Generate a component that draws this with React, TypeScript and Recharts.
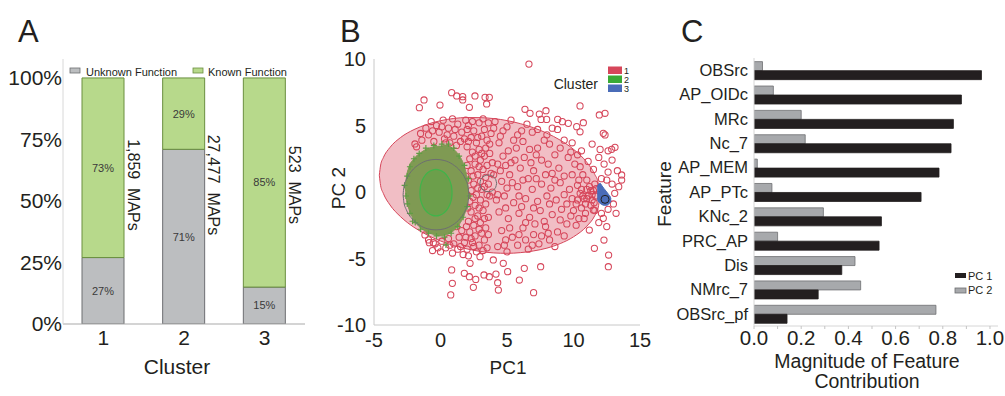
import React from "react";
import { BarChart, Bar, XAxis, YAxis, LabelList, ComposedChart, Area, Scatter } from "recharts";

const FONT = "'Liberation Sans', Arial, Helvetica, sans-serif";
const INK = "#231f20";
const RED = "#d6465a";

// A: share of MAPs with known / unknown function per cluster
const clusters = ["1", "2", "3"];
const unknownPct = [27, 71, 15];
const knownPct = [73, 29, 85];
const mapCounts = ["1,859", "27,477", "523"];
const pctTicks = [0, 25, 50, 75, 100];

// B: PCA scatter
const pcTicksX = [-5, 0, 5, 10, 15];
const pcTicksY = [-10, -5, 0, 5, 10];

const cluster1Pts: [number, number][] = [
  // outliers
  [6.65, 9.62], [0.84, 7.47], [1.22, 7.22], [1.67, 7.17], [1.67, 6.92], [2.59, 7.22], [3.35, 7.12], [3.67, 7.12],
  [-1.59, 6.34], [-1.24, 6.92], [-0.04, 6.54], [2.17, 6.37], [3.47, 6.62], [6.35, 6.22], [6.73, 5.92], [7.43, 5.86],
  [7.93, 6.11], [7.98, 5.46], [7.56, 5.46], [8.81, 5.46], [9.16, 5.29], [9.61, 5.16], [10.24, 4.91], [10.49, 4.53],
  [10.74, 5.21], [10.49, 6.47], [11.94, 5.79], [12.37, 5.92], [12.24, 4.41], [12.37, 4.29], [13.12, 3.36], [12.87, 3.21],
  [13.62, 1.28], [13.62, 0.9], [11.49, -1.35], [12.24, -1.98], [11.19, -2.86], [11.57, -4.23], [12.29, -3.61], [12.64, -4.74],
  [12.62, -5.62], [0.77, -7.74], [0.89, -6.87], [1.79, -6.11], [2.17, -6.37], [2.47, -7.17], [2.65, -6.57], [3.27, -6.24],
  [3.67, -6.37], [4.3, -6.82], [4.17, -6.17], [4.35, -7.37], [5.05, -5.99], [5.93, -6.62], [6.3, -5.74], [7.0, -7.57],
  [7.53, -5.62], [0.84, -5.86], [2.22, -5.36], [2.97, -4.86], [3.97, -5.11], [4.72, -5.36], [-1.92, 3.61], [-0.84, -3.81],
  [-0.54, -3.81], [-1.17, -3.23],
  // above cluster 2
  [-1.4, 3.9], [-0.9, 4.3], [-0.5, 3.8], [-0.1, 4.5], [0.3, 4.0], [0.6, 4.8], [1.0, 4.2], [1.3, 5.1], [1.6, 4.5], [1.9, 5.4],
  [-1.1, 4.8], [-0.3, 5.0], [0.2, 5.4], [0.9, 5.5], [1.5, 3.8], [0.7, 3.7], [-1.8, 3.4], [-0.7, 5.3], [1.2, 3.5], [1.8, 4.0],
  [-0.6, 4.6], [0.1, 4.9], [0.5, 4.3], [1.1, 4.7], [-1.5, 4.4], [0.4, 3.7],
  // dense band right of cluster 2
  [2.1, 5.0], [2.5, 4.6], [2.9, 5.2], [3.3, 4.7], [2.3, 4.1], [2.7, 3.7], [3.1, 4.2], [3.5, 3.9], [2.0, 3.4], [2.4, 3.0],
  [2.9, 3.2], [3.3, 2.7], [2.2, 2.5], [2.6, 2.1], [3.0, 2.4], [3.5, 2.0], [2.3, 1.6], [2.8, 1.3], [3.2, 1.7], [2.1, 0.9],
  [2.5, 0.6], [3.0, 0.8], [3.4, 1.1], [2.3, 0.1], [2.7, -0.2], [3.1, 0.2], [2.2, -0.7], [2.6, -1.0], [3.0, -0.6], [3.4, -0.9],
  [2.3, -1.5], [2.8, -1.8], [3.2, -1.4], [2.1, -2.2], [2.5, -2.5], [3.0, -2.3], [3.4, -2.7], [2.2, -3.0], [2.6, -3.3], [3.1, -3.1],
  [2.4, -3.8], [2.9, -4.0], [3.3, -3.6], [2.0, -4.3], [2.7, -4.5], [3.5, -4.2], [3.6, -1.9], [3.7, 2.9], [3.8, 4.4], [3.6, 5.2],
  [2.0, 4.7], [2.4, 5.3], [2.8, 4.1], [3.2, 5.5], [3.4, 3.3], [2.1, 3.8], [2.6, 2.7], [3.1, 2.9], [2.0, 2.0], [2.45, 1.2],
  [2.9, 1.9], [3.3, 0.4], [2.0, -0.2], [2.45, -0.4], [2.9, -1.2], [3.3, -2.0], [2.05, -1.2], [2.6, -2.0], [2.9, -2.8], [2.3, -3.5],
  [3.2, -4.4], [2.1, -4.8], [2.5, -4.1], [3.6, -3.2], [3.7, -0.3], [3.8, 1.4], [3.9, 2.2], [3.7, 3.6], [4.0, 4.8], [1.9, 1.2],
  [1.95, -2.6], [1.9, -3.4], [2.8, 0.3], [3.5, -0.2], [3.6, 0.6],
  // below cluster 2
  [-0.9, -3.6], [-0.4, -3.9], [0.1, -3.7], [0.6, -3.5], [1.0, -3.9], [1.4, -3.4], [1.8, -3.8], [-0.6, -4.4], [0.0, -4.5],
  [0.4, -4.2], [0.9, -4.6], [1.3, -4.3], [1.7, -4.7], [1.6, -2.9], [1.2, -2.6], [-0.2, -4.2], [0.7, -4.0], [1.5, -4.1],
  // middle of the ellipse
  [4.1, 5.3], [4.7, 4.6], [5.3, 5.4], [5.8, 4.3], [4.4, 3.7], [5.1, 3.1], [6.2, 3.8], [6.9, 4.5], [7.3, 3.3], [5.6, 2.4],
  [4.3, 2.1], [6.0, 1.8], [7.6, 2.4], [8.2, 3.6], [8.6, 2.8], [9.3, 3.9], [9.6, 2.6], [8.9, 1.8], [7.9, 1.3], [6.6, 1.0],
  [5.2, 1.3], [4.6, 0.8], [5.8, 0.4], [6.9, 0.2], [7.6, 0.6], [8.3, 0.3], [9.0, 0.7], [9.7, 0.2], [10.3, 0.5], [4.8, -0.3],
  [5.5, -0.8], [6.4, -0.5], [7.3, -0.7], [8.0, -0.3], [8.7, -0.6], [9.3, -0.2], [9.9, -0.5], [4.4, -1.5], [5.1, -2.0], [5.9, -1.6],
  [6.7, -1.9], [7.5, -1.4], [8.4, -1.7], [9.1, -1.3], [9.8, -1.8], [10.6, -1.2], [4.6, -2.9], [5.4, -3.4], [6.2, -2.7], [7.0, -3.2],
  [7.9, -2.6], [8.8, -3.0], [9.5, -2.4], [4.3, -4.1], [5.0, -4.5], [5.8, -4.0], [6.6, -4.3], [7.4, -3.9], [8.2, -3.6], [10.2, -2.5],
  [10.7, 1.3], [10.1, 2.1], [6.5, 5.1], [7.3, 4.7], [8.0, 4.3], [8.8, 4.7], [9.9, 3.7], [10.6, 3.1], [4.0, 1.3], [4.9, 2.0],
  [5.7, 3.3], [6.3, 2.6], [7.0, 1.6], [8.1, 2.1], [9.3, 1.2], [4.2, -0.6], [5.0, 0.3], [6.1, -1.1], [7.8, -2.2], [9.0, -2.1],
  [6.4, -3.6], [4.9, -3.6], [8.6, -4.1], [3.9, 0.0],
  [4.5, 4.2], [5.0, 4.9], [5.5, 3.9], [6.1, 4.6], [6.7, 3.2], [7.8, 3.9], [8.4, 4.8], [9.0, 3.3], [9.8, 3.0], [10.3, 2.8],
  [4.7, 2.7], [5.3, 2.2], [6.8, 2.2], [7.2, 2.8], [8.4, 1.4], [9.9, 1.3], [10.5, 1.9], [4.5, 1.6], [5.4, 0.7], [6.2, 0.9],
  [7.2, 1.0], [8.6, 0.9], [9.5, -0.9], [10.2, -0.9], [4.3, -0.2], [5.9, -0.3], [7.0, -1.2], [8.2, -0.9], [4.9, -1.2], [6.4, -2.3],
  [7.1, -2.4], [8.1, -3.1], [9.3, -3.3], [5.2, -2.7], [5.9, -3.2], [4.8, -4.0], [6.9, -4.0], [7.6, -3.3], [10.0, -1.4], [10.9, -1.6],
  [10.4, -2.0],
  // streak towards cluster 3
  [10.8, -0.5], [11.1, -0.3], [11.4, -0.6], [11.65, -0.3], [10.5, -0.1], [11.0, 0.2], [11.5, 0.1], [11.3, -1.0], [11.6, -1.4],
  [12.1, -1.6], [12.6, -1.3], [13.0, -0.9], [13.1, -0.1], [12.9, 0.6], [12.5, 0.9], [12.1, 1.0], [11.6, 0.6], [11.0, 0.9],
  [11.5, 1.7], [11.9, 2.6], [12.3, 2.1], [12.6, 1.5], [12.9, 2.4], [13.3, 1.6], [12.0, 3.2], [11.4, 3.6], [12.6, 3.1],
  [11.1, 2.3], [13.4, 0.4], [13.2, -1.6], [11.9, -2.3], [12.5, -2.6], [10.8, -2.0],
  [10.3, -0.6], [10.6, 0.2], [10.9, -0.9], [11.2, 0.4], [11.4, -0.2], [11.55, -0.8], [10.7, -0.3], [11.0, -0.5], [11.3, 0.1],
  [11.7, 0.25], [10.4, 0.9],
];

const cluster2Pts: [number, number][] = [
  [-2.7, 0.5], [-2.6, -0.3], [-2.5, 1.2], [-2.5, -0.9], [-2.3, 1.9], [-2.3, -1.6], [-2.0, 2.5], [-1.9, -2.3],
  [-1.6, 2.9], [-1.5, -2.8], [-1.1, 3.3], [-0.9, -3.1], [-0.5, 3.5], [-0.3, -3.3], [0.1, 3.6], [0.3, -3.4],
  [0.6, 3.6], [0.8, -3.1], [1.0, 3.3], [1.3, -2.6], [1.4, 2.7], [1.7, -1.9], [1.8, 2.0], [2.0, -1.1],
  [2.1, 1.0], [2.2, -0.3], [0.41, -3.98], [-2.1, -2.2],
];

// outlines: [PC1, lower PC2, upper PC2]
const ellipse1: [number, number, number][] = [
  [-4.6, 1.26, 1.26], [-4.5, 0.47, 2.03], [-4.3, -0.1, 2.58], [-3.8, -0.97, 3.35], [-3.0, -1.86, 4.1], [-2.0, -2.65, 4.69],
  [-1.0, -3.23, 5.09], [0.0, -3.68, 5.36], [1.0, -4.03, 5.53], [2.0, -4.28, 5.6], [3.0, -4.47, 5.59], [4.0, -4.58, 5.52],
  [5.0, -4.61, 5.37], [6.0, -4.56, 5.14], [7.0, -4.43, 4.83], [8.0, -4.22, 4.42], [9.0, -3.88, 3.9], [10.0, -3.37, 3.21],
  [11.0, -2.57, 2.23], [11.6, -1.78, 1.32], [11.85, -1.21, 0.71], [12.0, -0.26, -0.26],
];
const cluster2Body: [number, number, number][] = [
  [-2.65, 0.3, 0.3], [-2.55, -0.6, 1.2], [-2.4, -1.2, 1.8], [-2.0, -2.1, 2.5], [-1.5, -2.7, 2.95], [-1.0, -3.0, 3.25],
  [-0.5, -3.2, 3.4], [0.0, -3.3, 3.45], [0.5, -3.2, 3.5], [1.0, -2.9, 3.2], [1.5, -2.3, 2.6], [1.8, -1.7, 1.9],
  [2.0, -1.0, 1.0], [2.06, -0.6, 0.5], [2.1, -0.1, -0.1],
];
const ellipse2Inner: [number, number, number][] = [
  [-1.55, -0.05, -0.05], [-1.526, -0.4, 0.3], [-1.43, -0.81, 0.71], [-1.25, -1.21, 1.11], [-0.945, -1.57, 1.47],
  [-0.64, -1.74, 1.64], [-0.34, -1.8, 1.7], [-0.04, -1.74, 1.64], [0.265, -1.57, 1.47], [0.57, -1.21, 1.11],
  [0.75, -0.81, 0.71], [0.846, -0.4, 0.3], [0.87, -0.05, -0.05],
];
const ring2: [number, number, number][] = [
  [-2.81, -0.2, -0.2], [-2.76, -0.73, 0.33], [-2.56, -1.36, 0.96], [-2.19, -1.95, 1.55], [-1.58, -2.49, 2.09],
  [-0.96, -2.77, 2.37], [-0.34, -2.85, 2.45], [0.28, -2.77, 2.37], [0.9, -2.49, 2.09], [1.51, -1.95, 1.55],
  [1.88, -1.36, 0.96], [2.08, -0.73, 0.33], [2.13, -0.2, -0.2],
];
const ring1: [number, number, number][] = [
  [2.96, 0.65, 0.65], [3.023, 0.375, 0.925], [3.117, 0.233, 1.067], [3.275, 0.104, 1.196], [3.433, 0.04, 1.26],
  [3.59, 0.02, 1.28], [3.747, 0.04, 1.26], [3.905, 0.104, 1.196], [4.063, 0.233, 1.067], [4.157, 0.375, 0.925],
  [4.22, 0.65, 0.65],
];
const cluster3Body: [number, number, number][] = [
  [11.78, -0.55, 0.35], [11.9, -0.75, 0.6], [12.0, -0.85, 0.65], [12.15, -0.95, 0.45], [12.3, -1.0, 0.25],
  [12.5, -1.0, 0.0], [12.65, -0.9, -0.2], [12.78, -0.75, -0.4], [12.82, -0.6, -0.55],
];
const cluster3Center: [number, number][] = [[12.37, -0.55]];

// C: feature loadings
const features = ["OBSrc", "AP_OIDc", "MRc", "Nc_7", "AP_MEM", "AP_PTc", "KNc_2", "PRC_AP", "Dis", "NMrc_7", "OBSrc_pf"];
const pc1 = [0.964, 0.879, 0.845, 0.835, 0.784, 0.708, 0.54, 0.53, 0.372, 0.272, 0.14];
const pc2 = [0.036, 0.082, 0.2, 0.217, 0.014, 0.076, 0.294, 0.1, 0.428, 0.452, 0.771];
const magTicks = [0, 0.1, 0.2, 0.3, 0.4, 0.5, 0.6, 0.7, 0.8, 0.9, 1.0];

const toPts = (a: [number, number][]) => a.map(([x, y]) => ({ x, y }));
const toBand = (a: [number, number, number][]) => a.map(([x, lo, hi]) => ({ x, r: [lo, hi] }));

const dataA = clusters.map((c, i) => ({ cluster: c, unknown: unknownPct[i], known: knownPct[i], maps: mapCounts[i] }));
const dataC = features.map((f, i) => ({ feature: f, pc1: pc1[i], pc2: pc2[i] }));

const tickStyle = (size: number) => ({ fontSize: size, fill: INK, fontFamily: FONT });

function MapsLabel(props: any) {
  const { x, y, width, height, index, value } = props;
  const i = index ?? 0;
  const full = (Number(height) * 100) / knownPct[i];
  const cx = Number(x) + Number(width) + 9;
  const cy = Number(y) + full * 0.435;
  return (
    <text x={cx} y={cy} transform={`rotate(90 ${cx} ${cy})`} textAnchor="middle" dominantBaseline="central"
      fontSize={16} fill={INK} fontFamily={FONT}>
      {`${value}\u00a0 MAPs`}
    </text>
  );
}

const RedRing = (p: any) => <circle cx={p.cx} cy={p.cy} r={3.1} fill="none" stroke={RED} strokeWidth={1.05} />;
const GreenPlus = (p: any) => (
  <path d={`M${p.cx - 3},${p.cy}H${p.cx + 3}M${p.cx},${p.cy - 3}V${p.cy + 3}`} stroke="#5f9d44" strokeWidth={1.2} fill="none" />
);
const BlackRing = (p: any) => <circle cx={p.cx} cy={p.cy} r={4} fill="none" stroke="#222" strokeWidth={1} />;

function PanelA() {
  return (
    <BarChart width={330} height={396} data={dataA} margin={{ top: 59, right: 25, bottom: 42, left: 0 }} barSize={42}>
      <XAxis dataKey="cluster" height={30} tickLine={false} tickSize={0} tickMargin={6} axisLine={{ stroke: "#a9a9a9" }} tick={tickStyle(21)} />
      <XAxis xAxisId="top" orientation="top" height={0} tick={false} tickLine={false} axisLine={{ stroke: "#d8d8d8" }} />
      <YAxis width={63} domain={[0, 107.7]} ticks={pctTicks} allowDataOverflow tickFormatter={(v) => `${v}%`}
        tickLine={false} tickSize={0} tickMargin={1} axisLine={{ stroke: "#d8d8d8" }} tick={tickStyle(21)} />
      <YAxis yAxisId="right" orientation="right" width={0} tick={false} tickLine={false} axisLine={{ stroke: "#d8d8d8" }} />
      <Bar dataKey="unknown" stackId="s" fill="#bcbec0" stroke="#6d6e71" strokeWidth={1} isAnimationActive={false}>
        <LabelList dataKey="unknown" position="center" formatter={(v: any) => `${v}%`} fontSize={11} fill="#3a3a3a" fontFamily={FONT} />
      </Bar>
      <Bar dataKey="known" stackId="s" fill="#b7d98b" stroke="#6a8f3f" strokeWidth={1} isAnimationActive={false}>
        <LabelList dataKey="known" position="center" formatter={(v: any) => `${v}%`} fontSize={11} fill="#3a3a3a" fontFamily={FONT} />
        <LabelList dataKey="maps" content={MapsLabel} />
      </Bar>
    </BarChart>
  );
}

function PanelB() {
  return (
    <ComposedChart width={330} height={396} margin={{ top: 59, right: 20, bottom: 41, left: 0 }}>
      <XAxis type="number" dataKey="x" domain={[-5, 15]} ticks={pcTicksX} allowDataOverflow height={30}
        tickLine={false} axisLine={{ stroke: "#c8c8c8" }} tick={tickStyle(20)} />
      <XAxis xAxisId="top" type="number" orientation="top" domain={[-5, 15]} height={0} tick={false} tickLine={false} axisLine={{ stroke: "#c8c8c8" }} />
      <YAxis type="number" domain={[-10, 10]} ticks={pcTicksY} allowDataOverflow width={44}
        tickLine={false} axisLine={{ stroke: "#c8c8c8" }} tick={tickStyle(20)} />
      <YAxis yAxisId="right" type="number" orientation="right" domain={[-10, 10]} width={0} tick={false} tickLine={false} axisLine={{ stroke: "#c8c8c8" }} />
      <Area data={toBand(ellipse1)} dataKey="r" type="monotone" fill={RED} fillOpacity={0.35} stroke={RED} strokeWidth={1}
        dot={false} activeDot={false} isAnimationActive={false} />
      <Scatter data={toPts(cluster1Pts)} dataKey="y" shape={RedRing} isAnimationActive={false} />
      <Area data={toBand(cluster2Body)} dataKey="r" type="monotone" fill="#7f9a53" fillOpacity={1} stroke="#7f9a53" strokeWidth={1}
        dot={false} activeDot={false} isAnimationActive={false} zIndex={650} />
      <Scatter data={toPts(cluster2Pts)} dataKey="y" shape={GreenPlus} isAnimationActive={false} zIndex={660} />
      <Area data={toBand(ellipse2Inner)} dataKey="r" type="monotone" fill="#6c9f4b" fillOpacity={1} stroke="#3fb54a" strokeWidth={1.2}
        dot={false} activeDot={false} isAnimationActive={false} zIndex={670} />
      <Area data={toBand(ring2)} dataKey="r" type="monotone" fill="none" stroke="#6d6e71" strokeWidth={1}
        dot={false} activeDot={false} isAnimationActive={false} zIndex={680} />
      <Area data={toBand(ring1)} dataKey="r" type="monotone" fill="none" stroke="#6d6e71" strokeWidth={1}
        dot={false} activeDot={false} isAnimationActive={false} zIndex={680} />
      <Area data={toBand(cluster3Body)} dataKey="r" type="monotone" fill="#4a6cb8" fillOpacity={1} stroke="#4a6cb8" strokeWidth={1}
        dot={false} activeDot={false} isAnimationActive={false} zIndex={690} />
      <Scatter data={toPts(cluster3Center)} dataKey="y" shape={BlackRing} isAnimationActive={false} zIndex={700} />
    </ComposedChart>
  );
}

function PanelC() {
  return (
    <BarChart width={355} height={396} data={dataC} layout="vertical" margin={{ top: 58, right: 7, bottom: 40, left: 0 }}
      barCategoryGap="15%" barGap={0}>
      <XAxis type="number" domain={[0, 1.034]} ticks={magTicks} allowDataOverflow height={30}
        tickFormatter={(v) => (Math.round(v * 10) % 2 === 0 ? v.toFixed(1) : "")}
        tickLine={{ stroke: "#c4c4c4" }} tickSize={3} tickMargin={1} axisLine={{ stroke: "#d6d6d6" }} tick={tickStyle(20.5)} />
      <XAxis xAxisId="top" type="number" orientation="top" domain={[0, 1.034]} height={0} tick={false} tickLine={false} axisLine={{ stroke: "#d6d6d6" }} />
      <YAxis type="category" dataKey="feature" width={104} interval={0} tickLine={false} tickSize={0} tickMargin={6}
        axisLine={{ stroke: "#d6d6d6" }} tick={tickStyle(16.5)} />
      <YAxis yAxisId="right" type="category" orientation="right" width={0} tick={false} tickLine={false} axisLine={{ stroke: "#d6d6d6" }} />
      <Bar dataKey="pc2" fill="#a7a9ac" stroke="#6d6e71" strokeWidth={0.8} isAnimationActive={false} />
      <Bar dataKey="pc1" fill="#231f20" stroke="#231f20" strokeWidth={0.8} isAnimationActive={false} />
    </BarChart>
  );
}

function Overlay() {
  const t = { fontFamily: FONT, fill: INK };
  return (
    <svg width={1005} height={396} style={{ position: "absolute", left: 0, top: 0, pointerEvents: "none" }}>
      <text x={18} y={42} fontSize={31} {...t}>A</text>
      <text x={340} y={42} fontSize={31} {...t}>B</text>
      <text x={681} y={42} fontSize={31} {...t}>C</text>

      <rect x={70} y={68} width={10} height={5} fill="#bcbec0" stroke="#6d6e71" strokeWidth={0.8} />
      <text x={86} y={75.5} fontSize={11} {...t}>Unknown Function</text>
      <rect x={193} y={68} width={10} height={5} fill="#b7d98b" stroke="#6a8f3f" strokeWidth={0.8} />
      <text x={208} y={75.5} fontSize={11} {...t}>Known Function</text>
      <text x={177} y={373.5} fontSize={21} textAnchor="middle" {...t}>Cluster</text>

      <text x={598} y={89} fontSize={14} textAnchor="end" {...t}>Cluster</text>
      <rect x={608} y={66.5} width={14} height={7.5} fill={RED} />
      <rect x={608} y={75.5} width={14} height={7.5} fill="#3aaa35" />
      <rect x={608} y={84.5} width={14} height={7.5} fill="#4a6cb8" />
      <text x={624} y={73.5} fontSize={9} {...t}>1</text>
      <text x={624} y={82.5} fontSize={9} {...t}>2</text>
      <text x={624} y={91.5} fontSize={9} {...t}>3</text>
      <text x={338} y={188} fontSize={19} textAnchor="middle" dominantBaseline="central" transform="rotate(-90 338 188)" {...t}>PC 2</text>
      <text x={508} y={374} fontSize={19} textAnchor="middle" {...t}>PC1</text>

      <text x={664} y={194} fontSize={19} textAnchor="middle" dominantBaseline="central" transform="rotate(-90 664 194)" {...t}>Feature</text>
      <text x={867} y={368} fontSize={19.5} textAnchor="middle" {...t}>Magnitude of Feature</text>
      <text x={867} y={388} fontSize={19.5} textAnchor="middle" {...t}>Contribution</text>
      <rect x={955} y={273} width={11} height={5} fill="#231f20" />
      <text x={968} y={279.5} fontSize={11} {...t}>PC 1</text>
      <rect x={955} y={288} width={11} height={5} fill="#a7a9ac" stroke="#6d6e71" strokeWidth={0.8} />
      <text x={968} y={294} fontSize={11} {...t}>PC 2</text>
    </svg>
  );
}

export default function App() {
  return (
    <div style={{ position: "absolute", left: 0, top: 0, width: 1005, height: 396, background: "#fff", overflow: "hidden" }}>
      <div style={{ position: "absolute", left: 0, top: 0 }}><PanelA /></div>
      <div style={{ position: "absolute", left: 330, top: 0 }}><PanelB /></div>
      <div style={{ position: "absolute", left: 650, top: 0 }}><PanelC /></div>
      <Overlay />
    </div>
  );
}
